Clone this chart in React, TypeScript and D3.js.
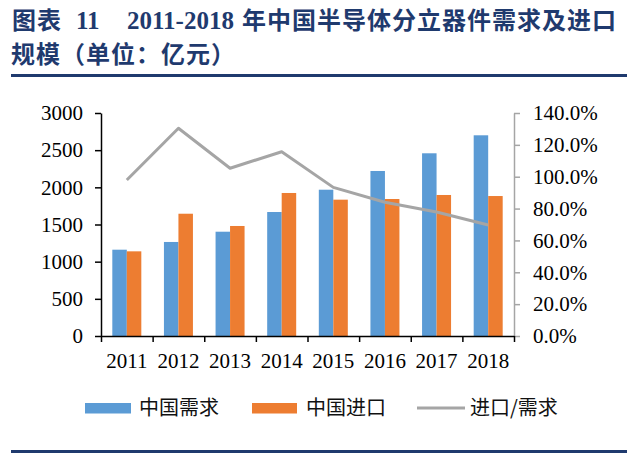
import React, { useRef, useEffect } from 'react';
import * as d3 from 'd3';

// values (亿元, ratio)
const years = ['2011', '2012', '2013', '2014', '2015', '2016', '2017', '2018'];
const demand = [1161, 1265, 1403, 1668, 1968, 2220, 2458, 2700];
const imports = [1139, 1645, 1480, 1924, 1834, 1843, 1897, 1883];
const ratio = [0.979, 1.304, 1.053, 1.157, 0.933, 0.84, 0.778, 0.697];
const leftTicks = [0, 500, 1000, 1500, 2000, 2500, 3000];
const rightTicks = [0, 0.2, 0.4, 0.6, 0.8, 1.0, 1.2, 1.4];
const seriesNames = ['中国需求', '中国进口', '进口/需求'];

const W = 640;
const H = 453;
const BLUE = '#5B9BD5';
const ORANGE = '#ED7D31';
const GRAY = '#A5A5A5';
const NAVY = '#1F3A6E';
const SERIF = '"Liberation Serif", "Times New Roman", serif';
const CJK = '"Noto Sans CJK SC", sans-serif';

const App: React.FC = () => {
    const ref = useRef<SVGSVGElement | null>(null);

    useEffect(() => {
        const svg = d3.select(ref.current);
        svg.selectAll('*').remove();

        const left = 101, right = 514, top = 113, bottom = 336;

        const x = d3.scaleBand<string>().domain(years).range([left, right]).padding(0);
        const groupW = 29;
        const x1 = d3.scaleBand<string>().domain(['demand', 'imports']).range([0, groupW]);
        const off = (x.bandwidth() - groupW) / 2;
        const yL = d3.scaleLinear().domain([0, 3000]).range([bottom, top]);
        const yR = d3.scaleLinear().domain([0, 1.4]).range([bottom, top]);

        // title
        const title = svg.append('g').attr('fill', NAVY).attr('font-weight', 'bold');
        const t1 = title.append('text').attr('y', 29).attr('font-size', 24);
        t1.append('tspan').attr('x', 12).attr('font-family', CJK).attr('letter-spacing', 1).text('图表');
        t1.append('tspan').attr('x', 76).attr('font-family', SERIF).attr('font-size', 25).text('11');
        t1.append('tspan').attr('x', 127).attr('font-family', SERIF).attr('font-size', 25).text('2011-2018');
        t1.append('tspan').attr('x', 242).attr('font-family', CJK).attr('letter-spacing', 1)
            .text('年中国半导体分立器件需求及进口');
        title.append('text').attr('x', 11).attr('y', 63).attr('font-size', 24).attr('letter-spacing', 1)
            .attr('font-family', CJK).text('规模（单位：亿元）');

        svg.append('line').attr('x1', 11).attr('x2', 627).attr('y1', 75.5).attr('y2', 75.5)
            .attr('stroke', NAVY).attr('stroke-width', 3);
        svg.append('line').attr('x1', 11).attr('x2', 627).attr('y1', 451.5).attr('y2', 451.5)
            .attr('stroke', NAVY).attr('stroke-width', 3);

        // bars
        const g = svg.append('g');
        g.selectAll('rect.demand').data(demand).enter().append('rect')
            .attr('x', (_, i) => x(years[i])! + off + x1('demand')!)
            .attr('width', x1.bandwidth())
            .attr('y', d => yL(d))
            .attr('height', d => yL(0) - yL(d))
            .attr('fill', BLUE);
        g.selectAll('rect.imports').data(imports).enter().append('rect')
            .attr('x', (_, i) => x(years[i])! + off + x1('imports')!)
            .attr('width', x1.bandwidth())
            .attr('y', d => yL(d))
            .attr('height', d => yL(0) - yL(d))
            .attr('fill', ORANGE);

        // ratio line
        const line = d3.line<number>()
            .x((_, i) => x(years[i])! + x.bandwidth() / 2)
            .y(d => yR(d));
        g.append('path').datum(ratio).attr('d', line)
            .attr('fill', 'none').attr('stroke', GRAY).attr('stroke-width', 3)
            .attr('stroke-linejoin', 'round');

        // left axis
        const axL = svg.append('g').attr('transform', `translate(${left},0)`)
            .call(d3.axisLeft(yL).tickValues(leftTicks).tickFormat(d3.format('d'))
                .tickSize(6).tickSizeOuter(0).tickPadding(12));
        axL.selectAll('path,line').attr('stroke', '#000').attr('stroke-width', 1.5);
        axL.selectAll('text').attr('font-family', SERIF).attr('font-size', 21).attr('fill', '#000');

        // right axis
        const axR = svg.append('g').attr('transform', `translate(${right},0)`)
            .call(d3.axisRight(yR).tickValues(rightTicks).tickFormat(d3.format('.1%'))
                .tickSize(6).tickSizeOuter(0).tickPadding(13));
        axR.selectAll('path,line').attr('stroke', GRAY).attr('stroke-width', 1.5);
        axR.selectAll('text').attr('font-family', SERIF).attr('font-size', 21).attr('fill', '#000');

        // bottom axis: boundary ticks + centred labels
        const xb = d3.scaleLinear().domain([0, years.length]).range([left, right]);
        const axB = svg.append('g').attr('transform', `translate(0,${bottom})`)
            .call(d3.axisBottom(xb).tickValues(d3.range(years.length + 1)).tickFormat(() => '')
                .tickSize(6).tickSizeOuter(0));
        axB.selectAll('path,line').attr('stroke', '#000').attr('stroke-width', 1.5);
        const axLab = svg.append('g').attr('transform', `translate(0,${bottom})`)
            .call(d3.axisBottom(x).tickSize(0).tickPadding(17));
        axLab.select('path').remove();
        axLab.selectAll('text').attr('font-family', SERIF).attr('font-size', 21).attr('fill', '#000');

        // legend
        const lg = svg.append('g').attr('font-family', CJK).attr('font-size', 20).attr('fill', '#111');
        const ly = 408;
        lg.append('rect').attr('x', 85).attr('y', ly - 5).attr('width', 46).attr('height', 10.5).attr('fill', BLUE);
        lg.append('text').attr('x', 139).attr('y', ly).attr('dy', '0.36em').text(seriesNames[0]);
        lg.append('rect').attr('x', 252).attr('y', ly - 5).attr('width', 45).attr('height', 10.5).attr('fill', ORANGE);
        lg.append('text').attr('x', 306).attr('y', ly).attr('dy', '0.36em').text(seriesNames[1]);
        lg.append('line').attr('x1', 417).attr('x2', 465).attr('y1', ly).attr('y2', ly)
            .attr('stroke', GRAY).attr('stroke-width', 3);
        lg.append('text').attr('x', 470).attr('y', ly).attr('dy', '0.36em').text(seriesNames[2]);
    }, []);

    return (
        <svg ref={ref} width={W} height={H}
            style={{ position: 'absolute', left: 0, top: 0, background: '#fff' }} />
    );
};

export default App;
